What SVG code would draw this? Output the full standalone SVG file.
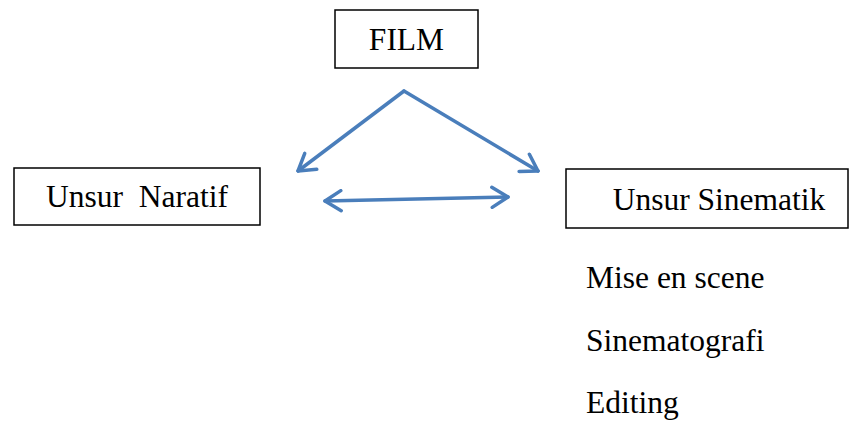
<svg xmlns="http://www.w3.org/2000/svg" width="860" height="421" viewBox="0 0 860 421">
<style>
.box{fill:#fff;stroke:#000;stroke-width:1.5}
.t{font-family:"Liberation Serif","Times New Roman",serif;font-size:31.5px;fill:#000}
.c{fill:none;stroke:#4A7EBB;stroke-width:3.5;stroke-linecap:round;stroke-linejoin:round}
</style>
<defs>
<marker id="ah" viewBox="-18 -12 20 24" markerWidth="20" markerHeight="24" refX="0" refY="0" orient="auto-start-reverse" markerUnits="userSpaceOnUse">
<path d="M-16,-10 L0,0 L-16,10" fill="none" stroke="#4A7EBB" stroke-width="3.5" stroke-linecap="round" stroke-linejoin="round"/>
</marker>
</defs>
<rect width="860" height="421" fill="#fff"/>
<g id="connectors">
<path class="c" d="M404,91 L298,171" marker-end="url(#ah)"/>
<path class="c" d="M404,91 L538,171" marker-end="url(#ah)"/>
<path class="c" d="M325,201 L508,197" marker-start="url(#ah)" marker-end="url(#ah)"/>
</g>
<g id="film">
<rect class="box" x="335" y="10" width="143" height="58"/>
<text class="t" x="406.5" y="50" text-anchor="middle">FILM</text>
</g>
<g id="naratif">
<rect class="box" x="14" y="168" width="246" height="57"/>
<text class="t" x="137" y="207" text-anchor="middle" xml:space="preserve">Unsur  Naratif</text>
</g>
<g id="sinematik">
<rect class="box" x="566" y="169" width="282" height="59"/>
<text class="t" x="719" y="210" text-anchor="middle">Unsur Sinematik</text>
<text class="t" x="586" y="288">Mise en scene</text>
<text class="t" x="586" y="351">Sinematografi</text>
<text class="t" x="586" y="413">Editing</text>
</g>
</svg>
